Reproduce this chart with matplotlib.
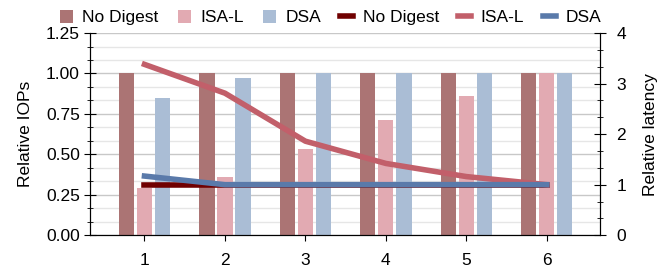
import matplotlib.pyplot as plt
import numpy as np
from matplotlib.ticker import MultipleLocator, AutoMinorLocator

plt.rcParams['font.family'] = ['Liberation Sans', 'DejaVu Sans']
plt.rcParams['font.size'] = 12.5

x = [1, 2, 3, 4, 5, 6]
labels = ['No Digest', 'ISA-L', 'DSA']

iops_nodigest = [1.0, 1.0, 1.0, 1.0, 1.0, 1.0]
iops_isal = [0.29, 0.357, 0.536, 0.715, 0.86, 1.0]
iops_dsa = [0.846, 0.97, 1.0, 1.0, 1.0, 1.0]

lat_nodigest = [1.0, 1.0, 1.0, 1.0, 1.0, 1.0]
lat_isal = [3.38, 2.81, 1.86, 1.42, 1.16, 1.0]
lat_dsa = [1.17, 1.0, 1.0, 1.0, 1.0, 1.0]

bar_colors = ['#ab7474', '#e2aab2', '#aabdd5']
line_colors = ['#700000', '#c25f6a', '#5a7aaa']

fig, ax = plt.subplots(figsize=(6.68, 2.8), dpi=100)
fig.subplots_adjust(left=0.135, right=0.898, top=0.882, bottom=0.16)

xs = np.array(x)
w = 0.19
off = 0.224
ax.bar(xs - off, iops_nodigest, w, color=bar_colors[0], label=labels[0], zorder=2)
ax.bar(xs, iops_isal, w, color=bar_colors[1], label=labels[1], zorder=2)
ax.bar(xs + off, iops_dsa, w, color=bar_colors[2], label=labels[2], zorder=2)

ax.set_ylim(0, 1.25)
ax.set_xlim(0.325, 6.66)
ax.set_xticks(x)
ax.yaxis.set_major_locator(MultipleLocator(0.25))
ax.yaxis.set_minor_locator(AutoMinorLocator(3))
ax.yaxis.set_major_formatter(plt.FormatStrFormatter('%.2f'))
ax.set_ylabel('Relative IOPs', labelpad=9)
ax.grid(axis='y', which='major', color='#c8c8c8', lw=1, zorder=0)
ax.grid(axis='y', which='minor', color='#e6e6e6', lw=1, zorder=0)
ax.set_axisbelow(True)
ax.tick_params(axis='both', which='major', direction='inout', length=8)
ax.tick_params(axis='y', which='minor', direction='inout', length=5)
ax.tick_params(axis='x', pad=9)
ax.spines['top'].set_visible(False)

ax2 = ax.twinx()
ax2.plot(x, lat_nodigest, color=line_colors[0], lw=4, label=labels[0], zorder=3)
ax2.plot(x, lat_isal, color=line_colors[1], lw=4, label=labels[1], zorder=4)
ax2.plot(x, lat_dsa, color=line_colors[2], lw=4, label=labels[2], zorder=5)
ax2.set_ylim(0, 4)
ax2.yaxis.set_major_locator(MultipleLocator(1))
ax2.yaxis.set_minor_locator(AutoMinorLocator(3))
ax2.set_ylabel('Relative latency', labelpad=12)
ax2.tick_params(axis='y', which='major', direction='inout', length=8, pad=8)
ax2.tick_params(axis='y', which='minor', direction='inout', length=5)
ax2.spines['top'].set_visible(False)

h1, l1 = ax.get_legend_handles_labels()
h2, l2 = ax2.get_legend_handles_labels()
fig.legend(h1 + h2, l1 + l2, loc='upper center', bbox_to_anchor=(0.495, 1.02), ncol=6,
           frameon=False, handlelength=0.75, handleheight=0.75, handletextpad=0.55,
           columnspacing=1.1)

fig.savefig('out.png', dpi=100)
